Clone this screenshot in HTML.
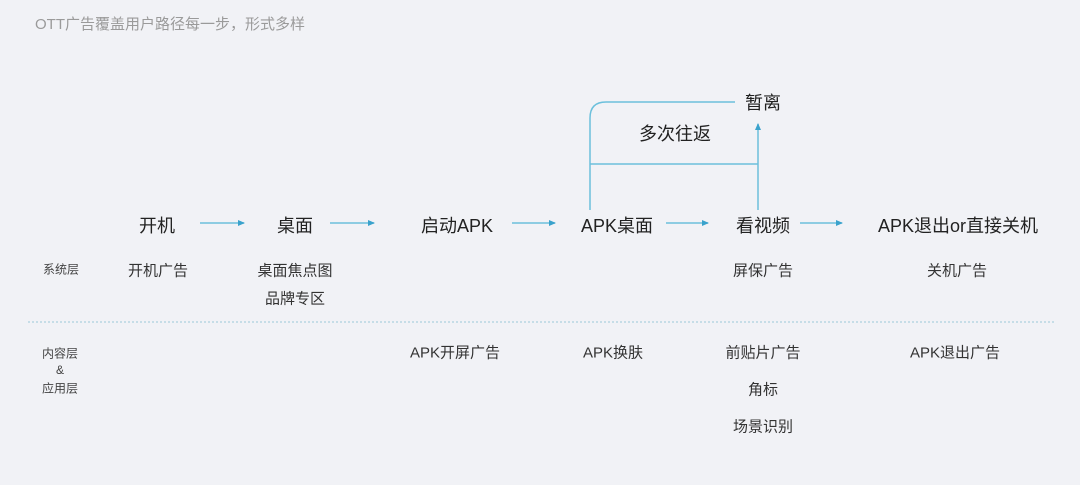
<!DOCTYPE html>
<html><head><meta charset="utf-8"><style>
html,body{margin:0;padding:0}
body{width:1080px;height:485px;background:#f1f2f6;position:relative;overflow:hidden;font-family:"Liberation Sans","Noto Sans CJK SC",sans-serif;color:#222}
.t{position:absolute;white-space:nowrap;transform:translate(-50%,-50%)}
.m{font-size:18px}
.s{font-size:15px;color:#333}
.x{font-size:12px;color:#444}
</style></head><body>
<div style="position:absolute;left:35px;top:13px;font-size:15px;color:#9a9a9a">OTT广告覆盖用户路径每一步，形式多样</div>
<svg width="1080" height="485" style="position:absolute;left:0;top:0">
<defs><marker id="a" markerWidth="8" markerHeight="8" refX="6" refY="4" orient="auto" markerUnits="userSpaceOnUse"><path d="M0,1 L7,4 L0,7z" fill="#3aa2cc"/></marker></defs>
<g stroke="#6cc0dc" stroke-width="1.5" fill="none">
<line x1="200" y1="223" x2="244" y2="223" marker-end="url(#a)"/>
<line x1="330" y1="223" x2="374" y2="223" marker-end="url(#a)"/>
<line x1="512" y1="223" x2="555" y2="223" marker-end="url(#a)"/>
<line x1="666" y1="223" x2="708" y2="223" marker-end="url(#a)"/>
<line x1="800" y1="223" x2="842" y2="223" marker-end="url(#a)"/>
<path d="M590,210 V118 Q590,102 606,102 H735"/>
<line x1="590" y1="164" x2="758" y2="164"/>
<line x1="758" y1="210" x2="758" y2="124" marker-end="url(#a)"/>
</g>
<line x1="28" y1="322" x2="1055" y2="322" stroke="#9cc8d8" stroke-width="1" stroke-dasharray="2,2"/>
</svg>
<div class="t m" style="left:157px;top:225px">开机</div>
<div class="t m" style="left:295px;top:225px">桌面</div>
<div class="t m" style="left:457px;top:225px">启动APK</div>
<div class="t m" style="left:617px;top:225px">APK桌面</div>
<div class="t m" style="left:763px;top:225px">看视频</div>
<div class="t m" style="left:958px;top:225px">APK退出or直接关机</div>
<div class="t m" style="left:763px;top:102px">暂离</div>
<div class="t m" style="left:675px;top:133px">多次往返</div>
<div class="t x" style="left:61px;top:269px">系统层</div>
<div class="t s" style="left:158px;top:270px">开机广告</div>
<div class="t s" style="left:295px;top:270px">桌面焦点图</div>
<div class="t s" style="left:295px;top:298px">品牌专区</div>
<div class="t s" style="left:763px;top:270px">屏保广告</div>
<div class="t s" style="left:957px;top:270px">关机广告</div>
<div class="t x" style="left:60px;top:353px">内容层</div>
<div class="t x" style="left:60px;top:370px">&amp;</div>
<div class="t x" style="left:60px;top:388px">应用层</div>
<div class="t s" style="left:455px;top:352px">APK开屏广告</div>
<div class="t s" style="left:613px;top:352px">APK换肤</div>
<div class="t s" style="left:763px;top:352px">前贴片广告</div>
<div class="t s" style="left:763px;top:389px">角标</div>
<div class="t s" style="left:763px;top:426px">场景识别</div>
<div class="t s" style="left:955px;top:352px">APK退出广告</div>
</body></html>
